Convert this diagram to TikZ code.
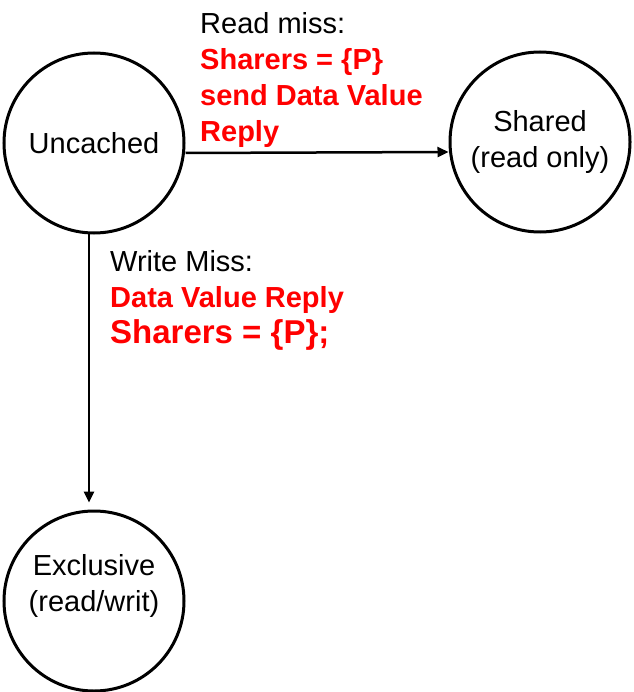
\documentclass[tikz,border=0pt]{standalone}
\usepackage{fontspec}
\setmainfont{Liberation Sans}
\usetikzlibrary{arrows.meta,positioning}
\definecolor{missred}{RGB}{255,0,0}

\tikzset{
  state/.style={draw, circle, line width=3pt, minimum size=180pt, inner sep=0pt,
    align=center, font=\fontsize{29}{36}\selectfont},
  lbl/.style={inner sep=0pt, align=left, font=\fontsize{29}{36}\selectfont},
  trans/.style={line width=2.5pt, -{Triangle[length=11pt,width=10pt]}}
}

\begin{document}
\begin{tikzpicture}[x=1pt,y=-1pt]
\useasboundingbox (0,0) rectangle (633,692);

\node[state] (unc) at (94,143){Uncached};
\node[state] (shr) at (540,142){Shared\\(read only)};
\node[state] (exc) at (94,601){Exclusive\\(read/writ)\\\mbox{}};

\node[lbl, anchor=north west] (rd) at (200,12){Read miss:\\
  \textcolor{missred}{\bfseries Sharers = \{P\}}\\
  \textcolor{missred}{\bfseries send Data Value}\\
  \textcolor{missred}{\bfseries Reply}};
\node[lbl, anchor=north west] (wr) at (110,250){Write Miss:\\
  \textcolor{missred}{\bfseries Data Value Reply}\\
  {\fontsize{33}{40}\selectfont\bfseries\color{missred}Sharers = \{P\};}};

\draw[trans] ([yshift=-10pt]unc.east) -- ([yshift=-10pt]shr.west);
\draw[trans, shorten >=7pt] ([xshift=-5pt]unc.south) -- ([xshift=-5pt]exc.north);

\end{tikzpicture}
\end{document}
